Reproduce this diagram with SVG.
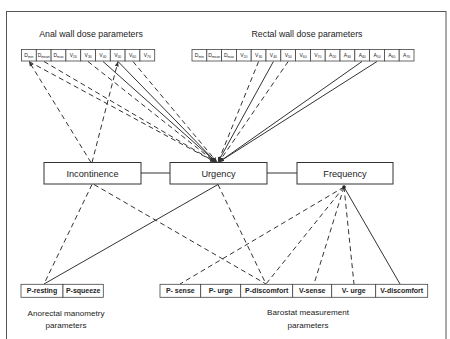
<svg xmlns="http://www.w3.org/2000/svg" width="450" height="339" viewBox="0 0 450 339">
<defs>
<marker id="ah" viewBox="0 0 10 10" refX="10" refY="5" markerWidth="5" markerHeight="5" orient="auto">
<path d="M0,1 L10,5 L0,9 z" fill="#333"/>
</marker>
<style>
.frame{fill:none;stroke:#555;stroke-width:1}
.pb{fill:#fff;stroke:#444;stroke-width:0.8}
.nb{fill:#fff;stroke:#333;stroke-width:1}
.t{font-family:"Liberation Sans",Arial,sans-serif;fill:#222}
.lbl{font-size:8.8px;text-anchor:middle}
.nl{font-size:9.2px;text-anchor:middle}
.bl{font-size:8.1px;text-anchor:middle}
.pt{font-size:5px;text-anchor:middle}
.sub{font-size:3.4px}
.bt{font-size:7px;font-weight:bold;text-anchor:middle}
.c{fill:none;stroke:#333;stroke-width:1}
.d{stroke-dasharray:5,3.5}
</style>
</defs>
<rect class="frame" x="6.5" y="11.5" width="439.5" height="340"/>
<text class="t lbl" x="91" y="37">Anal wall dose parameters</text>
<text class="t lbl" x="307" y="37">Rectal wall dose parameters</text>
<text class="t bl" x="66" y="315.5">Anorectal manometry</text>
<text class="t bl" x="66" y="328">parameters</text>
<text class="t bl" x="308" y="315">Barostat measurement</text>
<text class="t bl" x="308" y="327.5">parameters</text>

<g id="connectors">
<line class="c d" x1="29" y1="61.5" x2="215" y2="162" marker-end="url(#ah)"/>
<line class="c d" x1="44" y1="61.5" x2="215" y2="162" marker-end="url(#ah)"/>
<line class="c d" x1="88" y1="61.5" x2="215" y2="162" marker-end="url(#ah)"/>
<line class="c" x1="103" y1="61.5" x2="216" y2="162" marker-end="url(#ah)"/>
<line class="c" x1="118" y1="61.5" x2="216" y2="162"/>
<line class="c d" x1="133" y1="61.5" x2="217" y2="162" marker-end="url(#ah)"/>
<line class="c d" x1="91" y1="162.5" x2="29" y2="61.5" marker-end="url(#ah)"/>
<line class="c d" x1="92" y1="162.5" x2="118" y2="61.5" marker-end="url(#ah)"/>
<line class="c d" x1="258.6" y1="61.5" x2="218" y2="162" marker-end="url(#ah)"/>
<line class="c" x1="273.4" y1="61.5" x2="218" y2="162" marker-end="url(#ah)"/>
<line class="c d" x1="288.2" y1="61.5" x2="219" y2="162" marker-end="url(#ah)"/>
<line class="c" x1="362" y1="61.5" x2="219" y2="162" marker-end="url(#ah)"/>
<line class="c" x1="377" y1="61.5" x2="219" y2="162" marker-end="url(#ah)"/>
<line class="c" x1="141" y1="173" x2="170" y2="173"/>
<line class="c" x1="267" y1="173" x2="297" y2="173"/>
<line class="c d" x1="92" y1="184.5" x2="44" y2="284"/>
<line class="c d" x1="94" y1="184.5" x2="266" y2="284"/>
<line class="c" x1="218" y1="184.5" x2="44" y2="284"/>
<line class="c d" x1="218" y1="184.5" x2="266" y2="284"/>
<line class="c d" x1="344" y1="187" x2="180" y2="284"/>
<line class="c d" x1="344" y1="187" x2="266" y2="284"/>
<line class="c d" x1="344" y1="187" x2="314" y2="284"/>
<line class="c d" x1="344" y1="187" x2="354" y2="284"/>
<line class="c" x1="344" y1="187" x2="400" y2="284"/>
<circle cx="344" cy="187" r="1.8" fill="#222"/>
</g>

<g id="incontinence"><rect class="nb" x="44" y="162.5" width="97" height="21.5"/><text class="t nl" x="92.5" y="176.5">Incontinence</text></g>
<g id="urgency"><rect class="nb" x="170" y="162.5" width="97" height="21.5"/><text class="t nl" x="218.5" y="176.5">Urgency</text></g>
<g id="frequency"><rect class="nb" x="297" y="162.5" width="96" height="21.5"/><text class="t nl" x="345" y="176.5">Frequency</text></g>

<g id="a-dmin"><rect class="pb" x="21.5" y="49.5" width="14.8" height="11.5"/><text class="t pt" x="28.9" y="57">D<tspan class="sub" dy="1">min</tspan></text></g>
<g id="a-dmean"><rect class="pb" x="36.3" y="49.5" width="14.8" height="11.5"/><text class="t pt" x="43.7" y="57">D<tspan class="sub" dy="1">mean</tspan></text></g>
<g id="a-dmax"><rect class="pb" x="51.1" y="49.5" width="14.8" height="11.5"/><text class="t pt" x="58.5" y="57">D<tspan class="sub" dy="1">max</tspan></text></g>
<g id="a-v20"><rect class="pb" x="65.9" y="49.5" width="14.8" height="11.5"/><text class="t pt" x="73.3" y="57">V<tspan class="sub" dy="1">20</tspan></text></g>
<g id="a-v30"><rect class="pb" x="80.7" y="49.5" width="14.8" height="11.5"/><text class="t pt" x="88.1" y="57">V<tspan class="sub" dy="1">30</tspan></text></g>
<g id="a-v40"><rect class="pb" x="95.5" y="49.5" width="14.8" height="11.5"/><text class="t pt" x="102.9" y="57">V<tspan class="sub" dy="1">40</tspan></text></g>
<g id="a-v50"><rect class="pb" x="110.3" y="49.5" width="14.8" height="11.5"/><text class="t pt" x="117.7" y="57">V<tspan class="sub" dy="1">50</tspan></text></g>
<g id="a-v60"><rect class="pb" x="125.1" y="49.5" width="14.8" height="11.5"/><text class="t pt" x="132.5" y="57">V<tspan class="sub" dy="1">60</tspan></text></g>
<g id="a-v70"><rect class="pb" x="139.9" y="49.5" width="14.8" height="11.5"/><text class="t pt" x="147.3" y="57">V<tspan class="sub" dy="1">70</tspan></text></g>

<g id="r-dmin"><rect class="pb" x="192" y="49.5" width="14.8" height="11.5"/><text class="t pt" x="199.4" y="57">D<tspan class="sub" dy="1">min</tspan></text></g>
<g id="r-dmean"><rect class="pb" x="206.8" y="49.5" width="14.8" height="11.5"/><text class="t pt" x="214.2" y="57">D<tspan class="sub" dy="1">mean</tspan></text></g>
<g id="r-dmax"><rect class="pb" x="221.6" y="49.5" width="14.8" height="11.5"/><text class="t pt" x="229" y="57">D<tspan class="sub" dy="1">max</tspan></text></g>
<g id="r-v20"><rect class="pb" x="236.4" y="49.5" width="14.8" height="11.5"/><text class="t pt" x="243.8" y="57">V<tspan class="sub" dy="1">20</tspan></text></g>
<g id="r-v30"><rect class="pb" x="251.2" y="49.5" width="14.8" height="11.5"/><text class="t pt" x="258.6" y="57">V<tspan class="sub" dy="1">30</tspan></text></g>
<g id="r-v40"><rect class="pb" x="266" y="49.5" width="14.8" height="11.5"/><text class="t pt" x="273.4" y="57">V<tspan class="sub" dy="1">40</tspan></text></g>
<g id="r-v50"><rect class="pb" x="280.8" y="49.5" width="14.8" height="11.5"/><text class="t pt" x="288.2" y="57">V<tspan class="sub" dy="1">50</tspan></text></g>
<g id="r-v60"><rect class="pb" x="295.6" y="49.5" width="14.8" height="11.5"/><text class="t pt" x="303" y="57">V<tspan class="sub" dy="1">60</tspan></text></g>
<g id="r-v70"><rect class="pb" x="310.4" y="49.5" width="14.8" height="11.5"/><text class="t pt" x="317.8" y="57">V<tspan class="sub" dy="1">70</tspan></text></g>
<g id="r-a20"><rect class="pb" x="325.2" y="49.5" width="14.8" height="11.5"/><text class="t pt" x="332.6" y="57">A<tspan class="sub" dy="1">20</tspan></text></g>
<g id="r-a30"><rect class="pb" x="340" y="49.5" width="14.8" height="11.5"/><text class="t pt" x="347.4" y="57">A<tspan class="sub" dy="1">30</tspan></text></g>
<g id="r-a40"><rect class="pb" x="354.8" y="49.5" width="14.8" height="11.5"/><text class="t pt" x="362.2" y="57">A<tspan class="sub" dy="1">40</tspan></text></g>
<g id="r-a50"><rect class="pb" x="369.6" y="49.5" width="14.8" height="11.5"/><text class="t pt" x="377" y="57">A<tspan class="sub" dy="1">50</tspan></text></g>
<g id="r-a60"><rect class="pb" x="384.4" y="49.5" width="14.8" height="11.5"/><text class="t pt" x="391.8" y="57">A<tspan class="sub" dy="1">60</tspan></text></g>
<g id="r-a70"><rect class="pb" x="399.2" y="49.5" width="14.8" height="11.5"/><text class="t pt" x="406.6" y="57">A<tspan class="sub" dy="1">70</tspan></text></g>

<g id="p-resting"><rect class="pb" x="21" y="284.3" width="42" height="13"/><text class="t bt" x="42" y="293.3">P-resting</text></g>
<g id="p-squeeze"><rect class="pb" x="63" y="284.3" width="40.3" height="13"/><text class="t bt" x="83.2" y="293.3">P-squeeze</text></g>
<g id="p-sense"><rect class="pb" x="160" y="284.3" width="40.7" height="13"/><text class="t bt" x="180.3" y="293.3">P- sense</text></g>
<g id="p-urge"><rect class="pb" x="200.7" y="284.3" width="40" height="13"/><text class="t bt" x="220.7" y="293.3">P- urge</text></g>
<g id="p-discomfort"><rect class="pb" x="240.7" y="284.3" width="52" height="13"/><text class="t bt" x="266.7" y="293.3">P-discomfort</text></g>
<g id="v-sense"><rect class="pb" x="292.7" y="284.3" width="39" height="13"/><text class="t bt" x="312.2" y="293.3">V-sense</text></g>
<g id="v-urge"><rect class="pb" x="331.7" y="284.3" width="44" height="13"/><text class="t bt" x="353.7" y="293.3">V- urge</text></g>
<g id="v-discomfort"><rect class="pb" x="375.7" y="284.3" width="52" height="13"/><text class="t bt" x="401.7" y="293.3">V-discomfort</text></g>
</svg>
